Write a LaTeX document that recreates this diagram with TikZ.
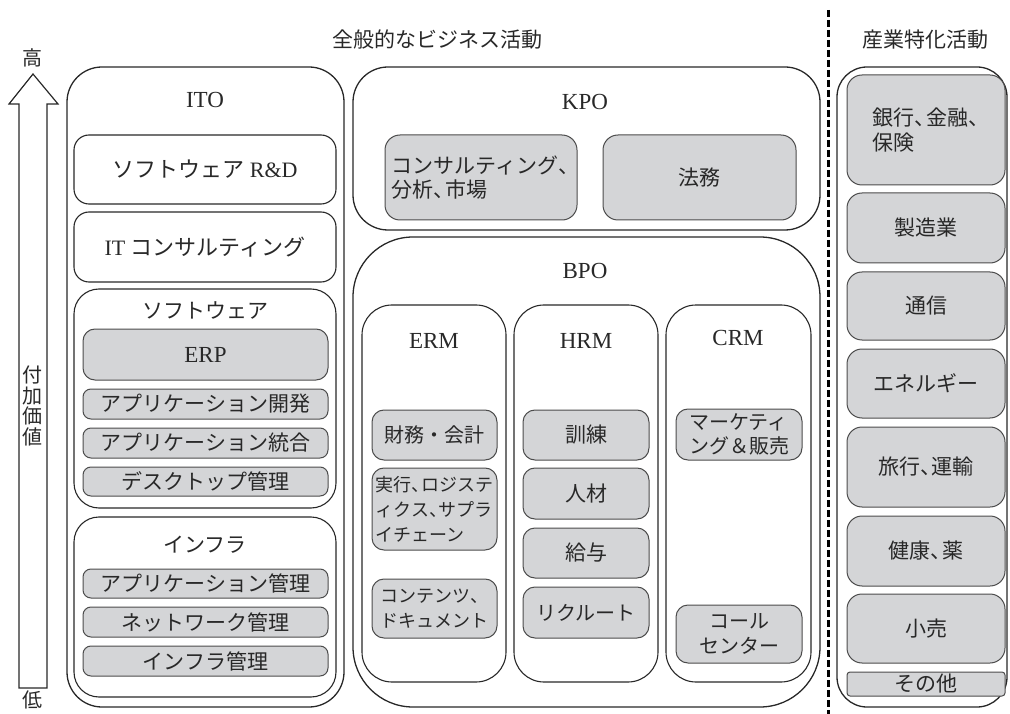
\documentclass[tikz,border=0pt]{standalone}
\usepackage{fontspec}
\setmainfont{Liberation Serif}
\newfontfamily\jp{Noto Sans CJK JP}
\definecolor{boxgray}{RGB}{212,213,215}
\definecolor{ink}{RGB}{40,40,40}
\newcommand\tou{\makebox[0.55em][l]{、}}
\newcommand\bx[7]{\node[#1, minimum width={#5-#3}, minimum height={#6-#4}] (#2) at ({(#3+#5)/2},{(#4+#6)/2}) {#7};}
\tikzset{
  outer/.style={draw=ink, line width=1.3pt, rounded corners=35pt, inner sep=0pt},
  wbox/.style={draw=ink, line width=1.1pt, rounded corners=15pt, inner sep=0pt, text=ink, font=\fontsize{22}{26}\selectfont},
  gbox/.style={draw=black!70, line width=1pt, fill=boxgray, rounded corners=12pt, inner sep=0pt, text=ink, font=\jp\fontsize{21}{25}\selectfont},
  small/.style={font=\jp\fontsize{18}{25}\selectfont},
  mid/.style={font=\jp\fontsize{20}{25}\selectfont},
  lat/.style={text=ink, font=\fontsize{23}{26}\selectfont, inner sep=0pt},
  jlab/.style={text=ink, font=\jp\fontsize{21}{24}\selectfont, inner sep=0pt}
}
\begin{document}
\begin{tikzpicture}[x=1pt,y=-1pt]
\useasboundingbox (0,0) rectangle (1010,714);
% titles
\node[jlab] (tgen) at (437,40) {全般的なビジネス活動};
\node[jlab] (tind) at (925,40) {産業特化活動};
% value arrow
\draw[ink, line width=1.2pt, fill=white] (19,688) -- (19,104) -- (9,104) -- (33,74) -- (58,104) -- (47,104) -- (47,688) -- cycle;
\node[jlab, font=\jp\fontsize{20}{24}\selectfont] (high) at (33,58) {高};
\node[jlab, font=\jp\fontsize{20}{24}\selectfont] (low) at (33,700) {低};
\node[jlab, align=center, font=\jp\fontsize{20}{20.5}\selectfont] (val) at (33,406) {付\\加\\価\\値};
% dashed separator
\coordinate (dtop) at (828,10);
\coordinate (dbot) at (828,714);
\draw[black, line width=3pt, dash pattern=on 7pt off 3pt] (dtop) -- (dbot);
% ITO
\bx{outer}{ito}{67}{67}{344}{707}{}
\node[lat] (itol) at (205,100) {ITO};
\bx{wbox}{srd}{74}{135}{336}{204}{{\jp ソフトウェア} R\&D}
\bx{wbox}{itc}{74}{212}{336}{282}{IT {\jp コンサルティング}}
\bx{wbox, rounded corners=25pt}{swg}{74}{289}{336}{508}{}
\node[jlab] (swgl) at (205,310) {ソフトウェア};
\bx{gbox, font=\fontsize{23}{26}\selectfont}{erp}{83}{329}{328}{380}{ERP}
\bx{gbox, rounded corners=8pt}{ad}{83}{389}{328}{419}{アプリケーション開発}
\bx{gbox, rounded corners=8pt}{ai}{83}{428}{328}{458}{アプリケーション統合}
\bx{gbox, rounded corners=8pt}{dm}{83}{467}{328}{496}{デスクトップ管理}
\bx{wbox, rounded corners=25pt}{infg}{74}{517}{336}{697}{}
\node[jlab] (infl) at (205,545) {インフラ};
\bx{gbox, rounded corners=8pt}{am}{83}{569}{328}{598}{アプリケーション管理}
\bx{gbox, rounded corners=8pt}{nm}{83}{607}{328}{637}{ネットワーク管理}
\bx{gbox, rounded corners=8pt}{im}{83}{646}{328}{676}{インフラ管理}
% KPO
\bx{outer}{kpo}{353}{67}{820}{230}{}
\node[lat] (kpol) at (585,102) {KPO};
\bx{gbox, rounded corners=15pt, align=left, font=\jp\fontsize{21}{24}\selectfont}{cons}{385}{135}{577}{220}{コンサルティング\tou\\分析\tou 市場}
\bx{gbox, rounded corners=15pt}{law}{603}{135}{796}{220}{法務}
% BPO
\bx{outer, rounded corners=60pt}{bpo}{353}{237}{820}{707}{}
\node[lat] (bpol) at (585,271) {BPO};
\bx{outer, rounded corners=30pt, line width=1.1pt}{erm}{362}{305}{506}{682}{}
\node[lat] (erml) at (434,341) {ERM};
\bx{outer, rounded corners=30pt, line width=1.1pt}{hrm}{514}{305}{658}{682}{}
\node[lat] (hrml) at (586,341) {HRM};
\bx{outer, rounded corners=30pt, line width=1.1pt}{crm}{666}{305}{811}{682}{}
\node[lat] (crml) at (738,338) {CRM};
\bx{gbox, mid}{fa}{372}{410}{497}{460}{財務・会計}
\bx{gbox, small, align=left}{lg}{372}{468}{497}{550}{実行\tou ロジステ\\ィクス\tou サプラ\\イチェーン}
\bx{gbox, small, align=left}{cd}{372}{579}{497}{638}{コンテンツ\tou\\ドキュメント}
\bx{gbox}{kr}{523}{410}{649}{460}{訓練}
\bx{gbox}{jz}{523}{468}{649}{519}{人材}
\bx{gbox}{ky}{523}{528}{649}{578}{給与}
\bx{gbox, mid}{rc}{523}{587}{649}{638}{リクルート}
\bx{gbox, align=left, font=\jp\fontsize{20}{24}\selectfont}{mk}{676}{409}{802}{460}{マーケティ\\ング＆販売}
\bx{gbox, mid, align=center}{cc}{676}{605}{802}{663}{コール\\センター}
% industry
\bx{outer, rounded corners=30pt}{ind}{837}{67}{1007}{707}{}
\bx{gbox, rounded corners=15pt, align=left}{bank}{847}{75}{1005}{185}{銀行\tou 金融\tou\\保険}
\bx{gbox, rounded corners=15pt}{mfg}{847}{193}{1005}{263}{製造業}
\bx{gbox, rounded corners=15pt}{tel}{847}{272}{1005}{340}{通信}
\bx{gbox, rounded corners=15pt}{ene}{847}{349}{1005}{418}{エネルギー}
\bx{gbox, rounded corners=15pt}{trv}{847}{427}{1005}{507}{旅行\tou 運輸}
\bx{gbox, rounded corners=15pt}{hlt}{847}{516}{1005}{586}{健康\tou 薬}
\bx{gbox, rounded corners=15pt}{rtl}{847}{594}{1005}{663}{小売}
\bx{gbox, rounded corners=3pt}{oth}{847}{672}{1005}{696}{その他}
\end{tikzpicture}
\end{document}
